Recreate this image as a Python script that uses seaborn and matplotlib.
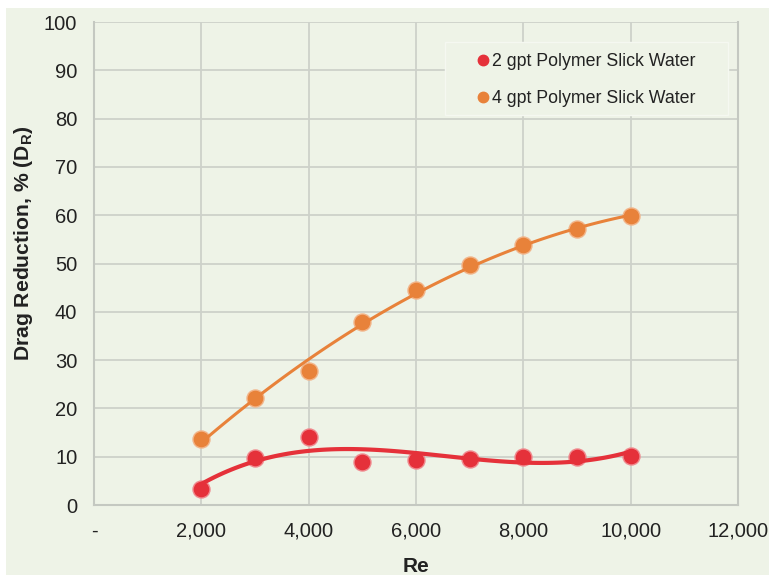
import numpy as np
import pandas as pd
import matplotlib
matplotlib.use("Agg")
import matplotlib.pyplot as plt
import seaborn as sns
from matplotlib.ticker import FuncFormatter
from matplotlib.lines import Line2D
from matplotlib.patches import Rectangle

re_values = [2000, 3000, 4000, 5000, 6000, 7000, 8000, 9000, 10000]
dr_2gpt = [3.4, 9.8, 14.1, 9.0, 9.4, 9.6, 9.9, 10.0, 10.2]
dr_4gpt = [13.7, 22.2, 27.7, 37.9, 44.6, 49.7, 53.8, 57.1, 59.8]
series_names = ["2 gpt Polymer Slick Water", "4 gpt Polymer Slick Water"]

bg = "#eef3e7"
grid_c = "#cdd1ca"
red = "#e5313a"
orange = "#e8823a"

sns.set_theme(style="white")
plt.rcParams["font.family"] = ["Liberation Sans", "DejaVu Sans"]

fig = plt.figure(figsize=(7.69, 5.75), dpi=100, facecolor="white")
fig.patches.append(Rectangle((0.008, 0), 0.992, 0.986, transform=fig.transFigure,
                             facecolor=bg, edgecolor="none", zorder=-10))
ax = fig.add_axes([0.1222, 0.1217, 0.8375, 0.84])
ax.set_facecolor(bg)

df = pd.DataFrame({"Re": re_values, "a": dr_2gpt, "b": dr_4gpt})

sns.regplot(data=df, x="Re", y="b", order=2, ci=None, ax=ax, truncate=True,
            scatter_kws=dict(s=150, color=orange, edgecolors="#f2b58a", linewidths=1, alpha=1, zorder=3),
            line_kws=dict(color=orange, lw=2.2, zorder=4))
sns.regplot(data=df, x="Re", y="a", order=3, ci=None, ax=ax, truncate=True,
            scatter_kws=dict(s=150, color=red, edgecolors="#f08a8f", linewidths=1, alpha=1, zorder=3),
            line_kws=dict(color=red, lw=3, zorder=4))

ax.set_xlim(0, 12000)
ax.set_ylim(0, 100)
ax.set_xticks(np.arange(0, 12001, 2000))
ax.set_yticks(np.arange(0, 101, 10))
ax.xaxis.set_major_formatter(FuncFormatter(lambda v, p: "-" if v == 0 else f"{int(v):,}"))
ax.grid(True, color=grid_c, lw=1.3)
ax.set_axisbelow(True)
for s in ["left", "bottom", "right"]:
    ax.spines[s].set_color("#c4c8c1")
    ax.spines[s].set_linewidth(1.5)
ax.spines["top"].set_visible(False)
ax.tick_params(axis="both", labelsize=14.5, colors="#222222", length=0)
ax.tick_params(axis="y", pad=12)
ax.tick_params(axis="x", pad=12)

ax.set_xlabel("Re", fontsize=15, fontweight="bold", color="#222222")
ax.xaxis.set_label_coords(0.5, -0.108)
ax.set_ylabel("Drag Reduction, % (D$_\\mathregular{R}$)", fontsize=15.2, fontweight="bold",
              color="#222222")
ax.yaxis.set_label_coords(-0.092, 0.542)

# legend panel
ax.add_patch(Rectangle((0.545, 0.8075), 0.4395, 0.151, transform=ax.transAxes,
                       facecolor=bg, edgecolor="#f5f8f1", lw=1.0, zorder=2))
handles = [Line2D([], [], ls="", marker="o", ms=7.5, color=red),
           Line2D([], [], ls="", marker="o", ms=7.5, color=orange)]
leg = ax.legend(handles, series_names, loc="upper left", bbox_to_anchor=(0.590, 0.936),
                fontsize=12.8, frameon=False, handletextpad=0.0, labelspacing=1.12,
                borderpad=0, handlelength=1.0, borderaxespad=0)
leg.set_zorder(5)
for t in leg.get_texts():
    t.set_color("#222222")

fig.savefig("out.png", dpi=100, facecolor=fig.get_facecolor())
